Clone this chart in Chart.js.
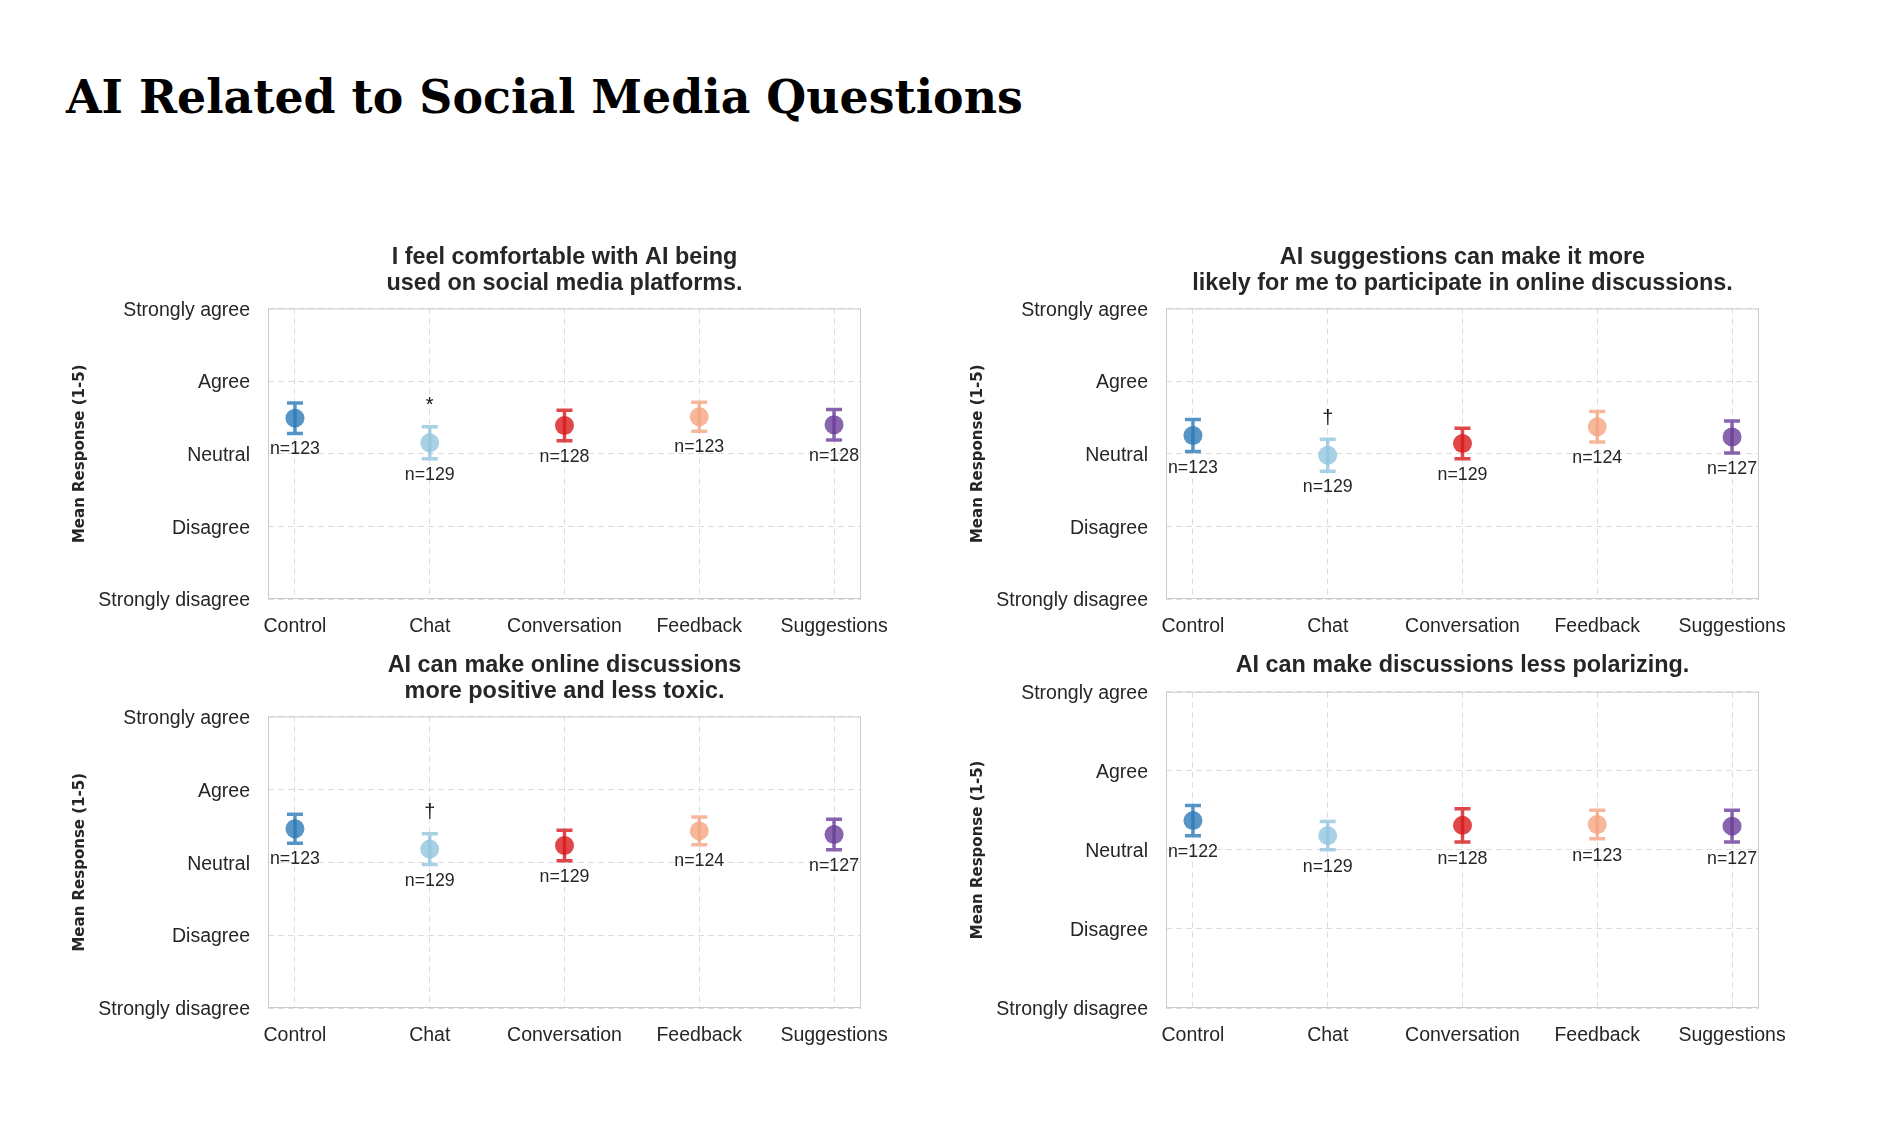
<!DOCTYPE html>
<html>
<head>
<meta charset="utf-8">
<script src="https://cdn.jsdelivr.net/npm/chart.js@4.4.1/dist/chart.umd.min.js"></script>
<style>
  body { margin: 0; background: #fff; width: 1892px; height: 1136px; position: relative; overflow: hidden; }
  #main-title {
    position: absolute; left: 66px; top: 73px; margin: 0; display: inline-block;
    font-family: 'DejaVu Serif', serif; font-weight: bold;
    font-size: 48px; line-height: 1; color: #000; white-space: nowrap;
  }
  canvas { position: absolute; }
</style>
</head>
<body>
<h1 id="main-title">AI Related to Social Media Questions</h1>
<canvas id="chart-comfort" width="946" height="450" style="left:0px;top:200px"></canvas>
<canvas id="chart-participate" width="946" height="450" style="left:898px;top:200px"></canvas>
<canvas id="chart-toxic" width="946" height="459" style="left:0px;top:600px"></canvas>
<canvas id="chart-polar" width="946" height="459" style="left:898px;top:600px"></canvas>
<script>
// groups and answer scale
const groups = ['Control', 'Chat', 'Conversation', 'Feedback', 'Suggestions'];
const likertLabels = ['Strongly disagree', 'Disagree', 'Neutral', 'Agree', 'Strongly agree'];
const groupColors = ['rgba(44,123,182,0.8)', 'rgba(146,197,222,0.8)', 'rgba(215,25,28,0.8)', 'rgba(244,165,130,0.8)', 'rgba(106,61,154,0.8)'];

// I feel comfortable with AI being used on social media platforms.
const comfortMeans = [3.49, 3.15, 3.39, 3.51, 3.40];
const comfortErrors = [0.21, 0.22, 0.21, 0.20, 0.21];
const comfortN = [123, 129, 128, 123, 128];
const comfortSig = ['', '*', '', '', ''];

// AI suggestions can make it more likely for me to participate...
const participateMeans = [3.25, 2.98, 3.14, 3.37, 3.23];
const participateErrors = [0.22, 0.22, 0.21, 0.21, 0.22];
const participateN = [123, 129, 129, 124, 127];
const participateSig = ['', '†', '', '', ''];

// AI can make online discussions more positive and less toxic.
const toxicMeans = [3.46, 3.18, 3.23, 3.43, 3.38];
const toxicErrors = [0.20, 0.21, 0.21, 0.19, 0.21];
const toxicN = [123, 129, 129, 124, 127];
const toxicSig = ['', '†', '', '', ''];

// AI can make discussions less polarizing.
const polarMeans = [3.37, 3.18, 3.31, 3.32, 3.30];
const polarErrors = [0.19, 0.18, 0.21, 0.18, 0.20];
const polarN = [122, 129, 128, 123, 127];
const polarSig = ['', '', '', '', ''];

// fit the big title to the width of the original (baseline at y=114)
const mainTitle = document.getElementById('main-title');
const titleSize = 48 * 957 / mainTitle.getBoundingClientRect().width;
mainTitle.style.fontSize = titleSize + 'px';
mainTitle.style.top = (114 - titleSize * 0.846) + 'px';

Chart.defaults.font.family = "'Liberation Sans', Arial, sans-serif";
Chart.defaults.color = '#262626';

// frame around plot + error bars + n labels
const errorBarPlugin = {
	id: 'errorBars',
	beforeDatasetsDraw(chart) {
		const { ctx, chartArea } = chart;
		ctx.save();
		ctx.strokeStyle = '#cccccc';
		ctx.lineWidth = 1;
		ctx.strokeRect(chartArea.left + 0.5, chartArea.top + 0.5, chartArea.width - 1, chartArea.height - 1);
		ctx.restore();
	},
	afterDatasetsDraw(chart, args, opts) {
		const { ctx } = chart;
		const xs = chart.scales.x;
		const ys = chart.scales.y;
		ctx.save();
		opts.means.forEach((m, i) => {
			const x = xs.getPixelForValue(i);
			const yTop = ys.getPixelForValue(m + opts.errors[i]);
			const yBot = ys.getPixelForValue(m - opts.errors[i]);
			ctx.strokeStyle = groupColors[i];
			ctx.lineWidth = 3.5;
			ctx.beginPath();
			ctx.moveTo(x, yTop);
			ctx.lineTo(x, yBot);
			ctx.moveTo(x - 8, yTop);
			ctx.lineTo(x + 8, yTop);
			ctx.moveTo(x - 8, yBot);
			ctx.lineTo(x + 8, yBot);
			ctx.stroke();

			ctx.fillStyle = '#262626';
			ctx.textAlign = 'center';
			ctx.font = "17.8px 'Liberation Sans', Arial, sans-serif";
			ctx.textBaseline = 'top';
			ctx.fillText('n=' + opts.ns[i], x, ys.getPixelForValue(m - opts.errors[i] - 0.1));
			if (opts.sig[i]) {
				ctx.fillStyle = '#111';
				ctx.font = "20px 'Liberation Sans', Arial, sans-serif";
				ctx.textBaseline = 'bottom';
				ctx.fillText(opts.sig[i], x, ys.getPixelForValue(m + opts.errors[i] + 0.15));
			}
		});
		ctx.restore();
	},
};

const drawPanel = (id, title, means, errors, ns, sig, titleTop, titleBottom) => {
	const ctx = document.getElementById(id);
	new Chart(ctx, {
		type: 'scatter',
		data: {
			datasets: [{
				data: means.map((m, i) => ({ x: i, y: m })),
				pointRadius: 9.5,
				pointBorderWidth: 0,
				pointBackgroundColor: groupColors,
				pointBorderColor: groupColors,
			}],
		},
		options: {
			responsive: false,
			animation: false,
			devicePixelRatio: 1,
			layout: { padding: { left: 0, right: 85, top: 0, bottom: 0 } },
			plugins: {
				legend: { display: false },
				tooltip: { enabled: false },
				title: {
					display: true,
					text: title,
					fullSize: false,
					color: '#262626',
					font: { size: 23.4, weight: 'bold', lineHeight: 1.1 },
					padding: { top: titleTop, bottom: titleBottom },
				},
				errorBars: { means: means, errors: errors, ns: ns, sig: sig },
			},
			scales: {
				x: {
					type: 'linear',
					min: -0.2,
					max: 4.2,
					afterBuildTicks: (scale) => { scale.ticks = groups.map((g, i) => ({ value: i })); },
					afterFit: (scale) => { scale.height = 51; },
					ticks: {
						autoSkip: false,
						maxRotation: 0,
						padding: 16,
						font: { size: 19.5 },
						color: '#262626',
						callback: (v) => groups[v],
					},
					grid: { color: '#dddddd', lineWidth: 1, drawTicks: false },
					border: { display: false, dash: [6, 4] },
				},
				y: {
					min: 1,
					max: 5,
					afterFit: (scale) => { scale.width = 268; },
					ticks: {
						stepSize: 1,
						autoSkip: false,
						padding: 18,
						labelOffset: 2,
						font: { size: 19.5 },
						color: '#262626',
						callback: (v) => likertLabels[v - 1],
					},
					title: {
						display: true,
						text: 'Mean Response (1-5)',
						color: '#262626',
						font: { family: "'DejaVu Sans', sans-serif", size: 15, weight: 'bold', lineHeight: 1.2 },
						padding: { top: 71, bottom: 0 },
					},
					grid: { color: '#dddddd', lineWidth: 1, drawTicks: false },
					border: { display: false, dash: [6, 4] },
				},
			},
		},
		plugins: [errorBarPlugin],
	});
};

drawPanel('chart-comfort', ['I feel comfortable with AI being', 'used on social media platforms.'],
	comfortMeans, comfortErrors, comfortN, comfortSig, 45, 12);
drawPanel('chart-participate', ['AI suggestions can make it more', 'likely for me to participate in online discussions.'],
	participateMeans, participateErrors, participateN, participateSig, 45, 12);
drawPanel('chart-toxic', ['AI can make online discussions', 'more positive and less toxic.'],
	toxicMeans, toxicErrors, toxicN, toxicSig, 53, 12);
drawPanel('chart-polar', 'AI can make discussions less polarizing.',
	polarMeans, polarErrors, polarN, polarSig, 53, 13);
</script>
</body>
</html>
